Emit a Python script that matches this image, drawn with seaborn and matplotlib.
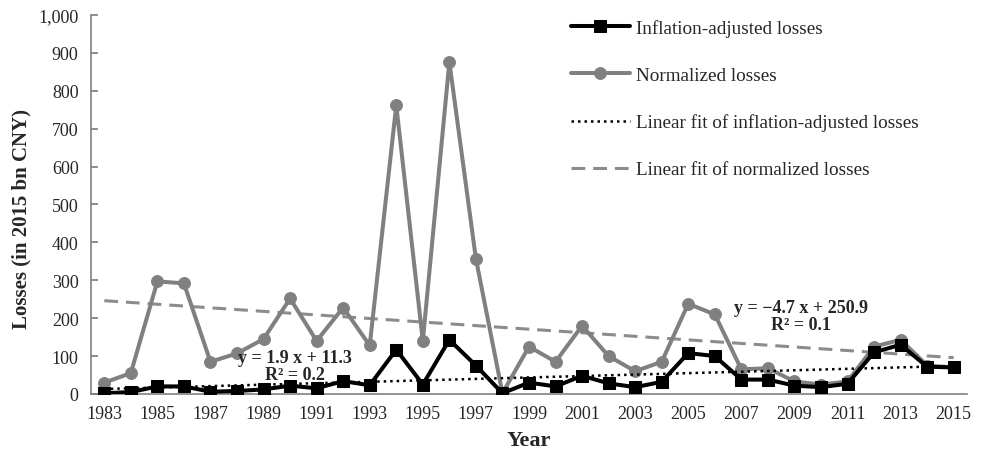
import matplotlib
matplotlib.use("Agg")
import matplotlib.pyplot as plt
import numpy as np
import pandas as pd
import seaborn as sns

# --- data ---
years = list(range(1983, 2016))
inflation_adjusted = [2, 5, 20, 20, 6, 8, 12, 22, 15, 34, 23, 117, 25, 143, 75, 2,
                      30, 20, 48, 28, 18, 32, 108, 100, 38, 38, 22, 18, 27, 110, 130, 72, 70]
normalized = [30, 55, 297, 292, 85, 107, 145, 252, 140, 228, 128, 762, 140, 876, 357, 2,
              125, 85, 180, 100, 60, 85, 238, 210, 65, 68, 33, 25, 33, 125, 143, 75, 70]

# linear fits as reported in the figure (x = 1..33)
fit_slopes = [1.9, -4.7]
fit_intercepts = [11.3, 250.9]
fit_labels = ["y = 1.9 x + 11.3\nR² = 0.2", "y = \u22124.7 x + 250.9\nR² = 0.1"]

sns.set_theme(style="white")
plt.rcParams["font.family"] = ["Liberation Serif", "DejaVu Serif"]

df = pd.DataFrame({"Year": years,
                   "Inflation-adjusted losses": inflation_adjusted,
                   "Normalized losses": normalized})
idx = np.arange(1, len(years) + 1)
df["fit_infl"] = fit_slopes[0] * idx + fit_intercepts[0]
df["fit_norm"] = fit_slopes[1] * idx + fit_intercepts[1]

fig = plt.figure(figsize=(9.86, 4.56), dpi=100)
ax = fig.add_axes([0.0923, 0.1338, 0.8884, 0.8311])

sns.lineplot(data=df, x="Year", y="Inflation-adjusted losses", ax=ax, color="black",
             lw=2.9, marker="s", markersize=8.5, markeredgecolor="black",
             label="Inflation-adjusted losses", zorder=4)
sns.lineplot(data=df, x="Year", y="Normalized losses", ax=ax, color="#808080",
             lw=2.9, marker="o", markersize=8.5, markeredgecolor="#808080",
             label="Normalized losses", zorder=3)
sns.lineplot(data=df, x="Year", y="fit_infl", ax=ax, color="black", lw=1.8,
             linestyle=(0, (1, 1.6)), label="Linear fit of inflation-adjusted losses", zorder=5)
sns.lineplot(data=df, x="Year", y="fit_norm", ax=ax, color="#8c8c8c", lw=2.2,
             linestyle=(0, (4.5, 2.6)), label="Linear fit of normalized losses", zorder=2)

ax.set_xlim(1982.5, 2015.5)
ax.set_ylim(0, 1000)
ax.set_yticks(range(0, 1001, 100))
ax.set_yticklabels([f"{v:,}" for v in range(0, 1001, 100)])
ax.set_xticks(years[::2])
ax.set_xticks(np.arange(1982.5, 2016, 1), minor=True)
ax.tick_params(axis="x", which="major", length=0, labelsize=13, pad=8)
ax.tick_params(axis="x", which="minor", direction="in", length=5, color="#808080", width=1)
ax.tick_params(axis="y", direction="in", length=5, color="#808080", labelsize=13,
               left=True, pad=9)

for side in ["top", "right"]:
    ax.spines[side].set_visible(False)
for side in ["left", "bottom"]:
    ax.spines[side].set_color("#808080")
    ax.spines[side].set_linewidth(1.2)

ax.set_xlabel("Year", fontsize=16, fontweight="bold", labelpad=6)
ax.set_ylabel("Losses (in 2015 bn CNY)", fontsize=15, fontweight="bold")
ax.yaxis.set_label_coords(-0.068, 0.464)

ax.text(1990.2, 74, fit_labels[0], fontsize=13, fontweight="bold",
        ha="center", va="center", linespacing=1.05, zorder=6)
ax.text(2009.25, 206, fit_labels[1], fontsize=13, fontweight="bold",
        ha="center", va="center", linespacing=1.05, zorder=6)

ax.legend(loc="upper left", bbox_to_anchor=(0.528, 1.035), frameon=False, fontsize=13.75,
          handlelength=3.1, handletextpad=0.3, labelspacing=1.55)

fig.savefig("out.png", dpi=100)
